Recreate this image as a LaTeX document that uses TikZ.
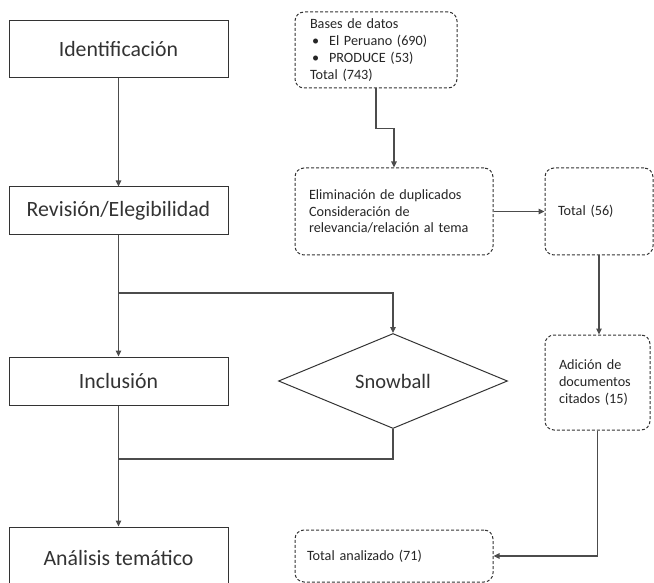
\documentclass[tikz,border=0pt]{standalone}
\usepackage{fontspec}
\setmainfont{Carlito}
\usetikzlibrary{arrows.meta,shapes.geometric,positioning}
\tikzset{
  etapa/.style={draw=black!80, line width=1pt, minimum width=219, font=\fontsize{21.8}{26}\selectfont, text=black!80},
  dato/.style={draw=black!80, dash pattern=on 3pt off 2pt, rounded corners=9pt, line width=1pt,
    font=\fontsize{14.2}{16.8}\selectfont, text=black!85, align=left, inner ysep=0pt},
  flecha/.style={draw=black!70, line width=1.2pt, -{Triangle[length=6pt,width=5.5pt]}},
  linea/.style={draw=black!70, line width=1.2pt}
}
\begin{document}
\begin{tikzpicture}[x=1pt, y=-1pt]
\useasboundingbox (0,0) rectangle (654,583);
\clip (0,0) rectangle (654,583);
% etapas
\node[etapa, minimum height=57] (iden) at (118.5,49.5) {Identificación};
\node[etapa, minimum height=48] (revi) at (118.5,211)  {Revisión/Elegibilidad};
\node[etapa, minimum height=48] (incl) at (118.5,381)  {Inclusión};
\node[etapa, minimum height=62] (anal) at (118.5,558)  {Análisis temático};
\node[draw=black!80, line width=1pt, diamond, aspect=2.4, inner sep=0pt, minimum width=229, minimum height=95,
  font=\fontsize{20.5}{24}\selectfont, text=black!80] (snow) at (393,381) {Snowball};
% datos
\node[dato, text width=132, inner xsep=15, minimum height=76] (bases) at (376,50)
  {Bases de datos\\
   \hspace*{2pt}\textbullet\hspace{10pt}El Peruano (690)\\
   \hspace*{2pt}\textbullet\hspace{10pt}PRODUCE (53)\\
   Total (743)};
\node[dato, text width=170, inner xsep=14, minimum height=87] (elim) at (394,211.5)
  {Eliminación de duplicados\\ Consideración de\\ relevancia/relación al tema};
\node[dato, text width=82, inner xsep=13, minimum height=87] (t56) at (599,211.5) {Total (56)};
\node[dato, text width=77, inner xsep=14, minimum height=95] (adic) at (597.5,382.5)
  {Adición de\\ documentos\\ citados (15)};
\node[dato, text width=174, inner xsep=12, minimum height=52] (tanal) at (394,556) {Total analizado (71)};
% conectores
\coordinate (j1) at (118.5,293);
\coordinate (j2) at (118.5,459);
\draw[flecha] (iden) -- (revi);
\draw[flecha] (revi) -- (incl);
\draw[flecha] (incl) -- (anal);
\draw[flecha] (j1) -| (snow.north);
\draw[linea] (snow.south) |- (j2);
\draw[flecha] (bases.south) -- ++(0,40) -| (elim.north);
\draw[flecha] (elim.east) -- (t56.west);
\draw[flecha] (t56.south) -- (t56.south |- adic.north);
\draw[flecha] (adic.south) |- (tanal.east);
\end{tikzpicture}
\end{document}
